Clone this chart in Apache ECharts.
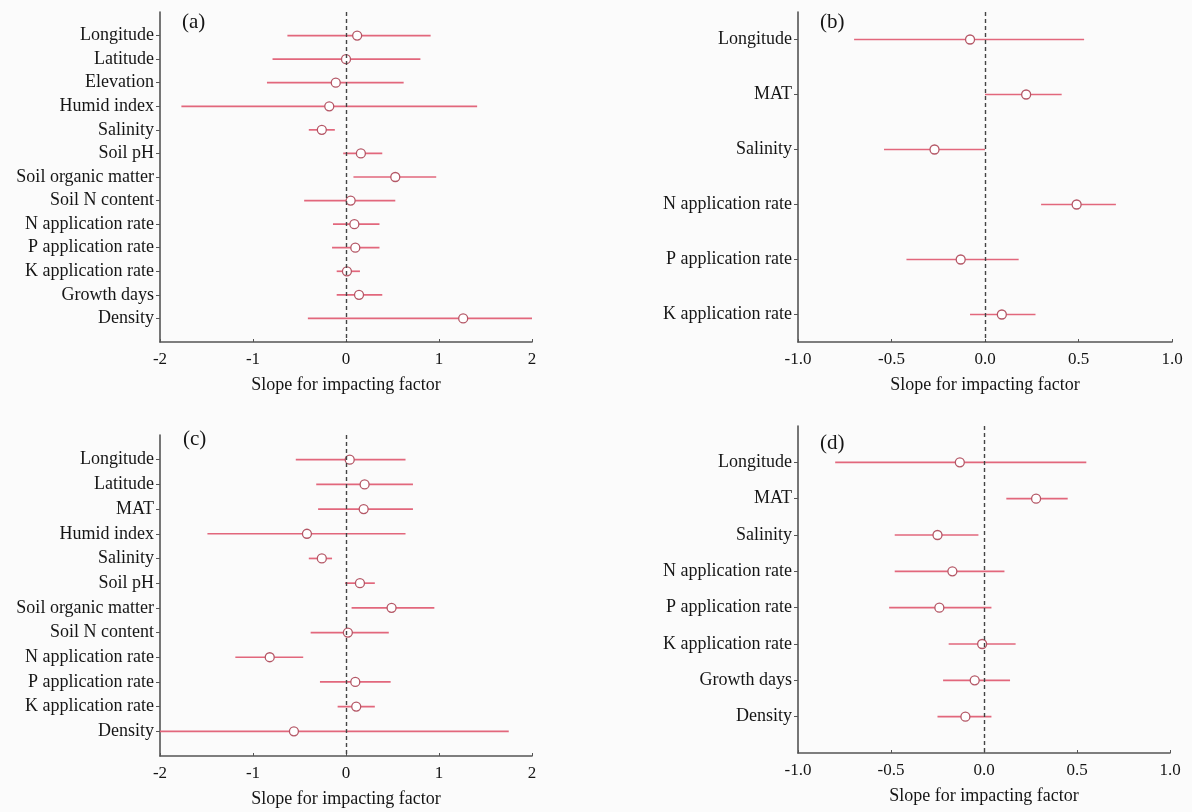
<!DOCTYPE html>
<html>
<head>
<meta charset="utf-8">
<script src="https://cdn.jsdelivr.net/npm/echarts@6/dist/echarts.min.js"></script>
<style>
  html, body { margin: 0; padding: 0; background: #fbfbfb; }
  #chart { width: 1192px; height: 812px; }
</style>
</head>
<body>
<div id="chart"></div>
<script>
// panel (a)
const catsA = ['Longitude', 'Latitude', 'Elevation', 'Humid index', 'Salinity', 'Soil pH', 'Soil organic matter',
  'Soil N content', 'N application rate', 'P application rate', 'K application rate', 'Growth days', 'Density'];
const estA  = [0.12, 0.00, -0.11, -0.18, -0.26, 0.16, 0.53, 0.05, 0.09, 0.10, 0.01, 0.14, 1.26];
const lowA  = [-0.63, -0.79, -0.85, -1.77, -0.40, -0.03, 0.08, -0.45, -0.14, -0.15, -0.10, -0.10, -0.41];
const highA = [0.91, 0.80, 0.62, 1.41, -0.12, 0.39, 0.97, 0.53, 0.36, 0.36, 0.15, 0.39, 2.00];

// panel (b)
const catsB = ['Longitude', 'MAT', 'Salinity', 'N application rate', 'P application rate', 'K application rate'];
const estB  = [-0.08, 0.22, -0.27, 0.49, -0.13, 0.09];
const lowB  = [-0.70, 0.00, -0.54, 0.30, -0.42, -0.08];
const highB = [0.53, 0.41, 0.00, 0.70, 0.18, 0.27];

// panel (c)
const catsC = ['Longitude', 'Latitude', 'MAT', 'Humid index', 'Salinity', 'Soil pH', 'Soil organic matter',
  'Soil N content', 'N application rate', 'P application rate', 'K application rate', 'Density'];
const estC  = [0.04, 0.20, 0.19, -0.42, -0.26, 0.15, 0.49, 0.02, -0.82, 0.10, 0.11, -0.56];
const lowC  = [-0.54, -0.32, -0.30, -1.49, -0.40, -0.01, 0.06, -0.38, -1.19, -0.28, -0.09, -2.00];
const highC = [0.64, 0.72, 0.72, 0.64, -0.15, 0.31, 0.95, 0.46, -0.46, 0.48, 0.31, 1.75];

// panel (d)
const catsD = ['Longitude', 'MAT', 'Salinity', 'N application rate', 'P application rate', 'K application rate',
  'Growth days', 'Density'];
const estD  = [-0.13, 0.28, -0.25, -0.17, -0.24, -0.01, -0.05, -0.10];
const lowD  = [-0.80, 0.12, -0.48, -0.48, -0.51, -0.19, -0.22, -0.25];
const highD = [0.55, 0.45, -0.03, 0.11, 0.04, 0.17, 0.14, 0.04];

const panels = [
  { tag: '(a)', cats: catsA, est: estA, low: lowA, high: highA, xmin: -2, xmax: 2, step: 1, ymin: -1, ymax: 13,
    grid: { left: 160, top: 12, width: 372, height: 330 }, tagPos: [182, 12] },
  { tag: '(b)', cats: catsB, est: estB, low: lowB, high: highB, xmin: -1, xmax: 1, step: 0.5, ymin: -0.5, ymax: 5.5,
    grid: { left: 798, top: 12, width: 374, height: 330 }, tagPos: [820, 12] },
  { tag: '(c)', cats: catsC, est: estC, low: lowC, high: highC, xmin: -2, xmax: 2, step: 1, ymin: -1, ymax: 12,
    grid: { left: 160, top: 435, width: 372, height: 321 }, tagPos: [183, 429] },
  { tag: '(d)', cats: catsD, est: estD, low: lowD, high: highD, xmin: -1, xmax: 1, step: 0.5, ymin: -1, ymax: 8,
    grid: { left: 798, top: 426, width: 372, height: 327 }, tagPos: [820, 433] }
];

const serif = '"Liberation Serif", "Times New Roman", serif';
const axisColor = '#555';
const textColor = '#151515';

function renderBar(params, api) {
  const y = api.value(3);
  const a = api.coord([api.value(0), y]);
  const b = api.coord([api.value(1), y]);
  const c = api.coord([api.value(2), y]);
  return {
    type: 'group',
    children: [
      { type: 'line', shape: { x1: a[0], y1: a[1], x2: b[0], y2: b[1] },
        style: { stroke: '#e2677c', lineWidth: 1.7 } },
      { type: 'circle', shape: { cx: c[0], cy: c[1], r: 4.5 },
        style: { fill: '#ffffff', stroke: '#b45766', lineWidth: 1.3 }, z2: 10 }
    ]
  };
}

const grid = [], xAxis = [], yAxis = [], series = [], graphic = [];
panels.forEach((p, i) => {
  grid.push(p.grid);
  const idx = p.cats.map((_, k) => k);
  xAxis.push({
    type: 'value', gridIndex: i, min: p.xmin, max: p.xmax, interval: p.step,
    name: 'Slope for impacting factor', nameLocation: 'middle', nameGap: 34,
    nameTextStyle: { fontFamily: serif, fontSize: 18, color: textColor },
    axisLine: { show: true, onZero: false, lineStyle: { color: axisColor, width: 1.6 } },
    axisTick: { show: true, inside: true, length: 3, lineStyle: { color: axisColor } },
    axisLabel: { fontFamily: serif, fontSize: 17, color: textColor, margin: 9,
      formatter: v => p.step < 1 ? v.toFixed(1) : String(v) },
    splitLine: { show: false }
  });
  yAxis.push({
    type: 'value', gridIndex: i, inverse: true, min: p.ymin, max: p.ymax,
    axisLine: { show: true, onZero: false, lineStyle: { color: axisColor, width: 1.6 } },
    axisTick: { show: true, length: 4, customValues: idx, lineStyle: { color: axisColor } },
    axisLabel: { fontFamily: serif, fontSize: 18, color: textColor, margin: 6, customValues: idx,
      formatter: v => p.cats[v] || '' },
    splitLine: { show: false }
  });
  series.push({
    type: 'custom', xAxisIndex: i, yAxisIndex: i,
    renderItem: renderBar,
    encode: { x: [0, 1, 2], y: 3 },
    data: p.cats.map((_, k) => [p.low[k], p.high[k], p.est[k], k]),
    markLine: {
      silent: true, symbol: 'none', label: { show: false },
      lineStyle: { color: '#444', type: [4, 3], width: 1.4 },
      data: [{ xAxis: 0 }]
    }
  });
  graphic.push({
    type: 'text', left: p.tagPos[0], top: p.tagPos[1],
    style: { text: p.tag, font: '21px ' + serif, fill: textColor }
  });
});

const chart = echarts.init(document.getElementById('chart'));
chart.setOption({
  backgroundColor: '#fbfbfb',
  animation: false,
  grid, xAxis, yAxis, series, graphic
});
</script>
</body>
</html>
